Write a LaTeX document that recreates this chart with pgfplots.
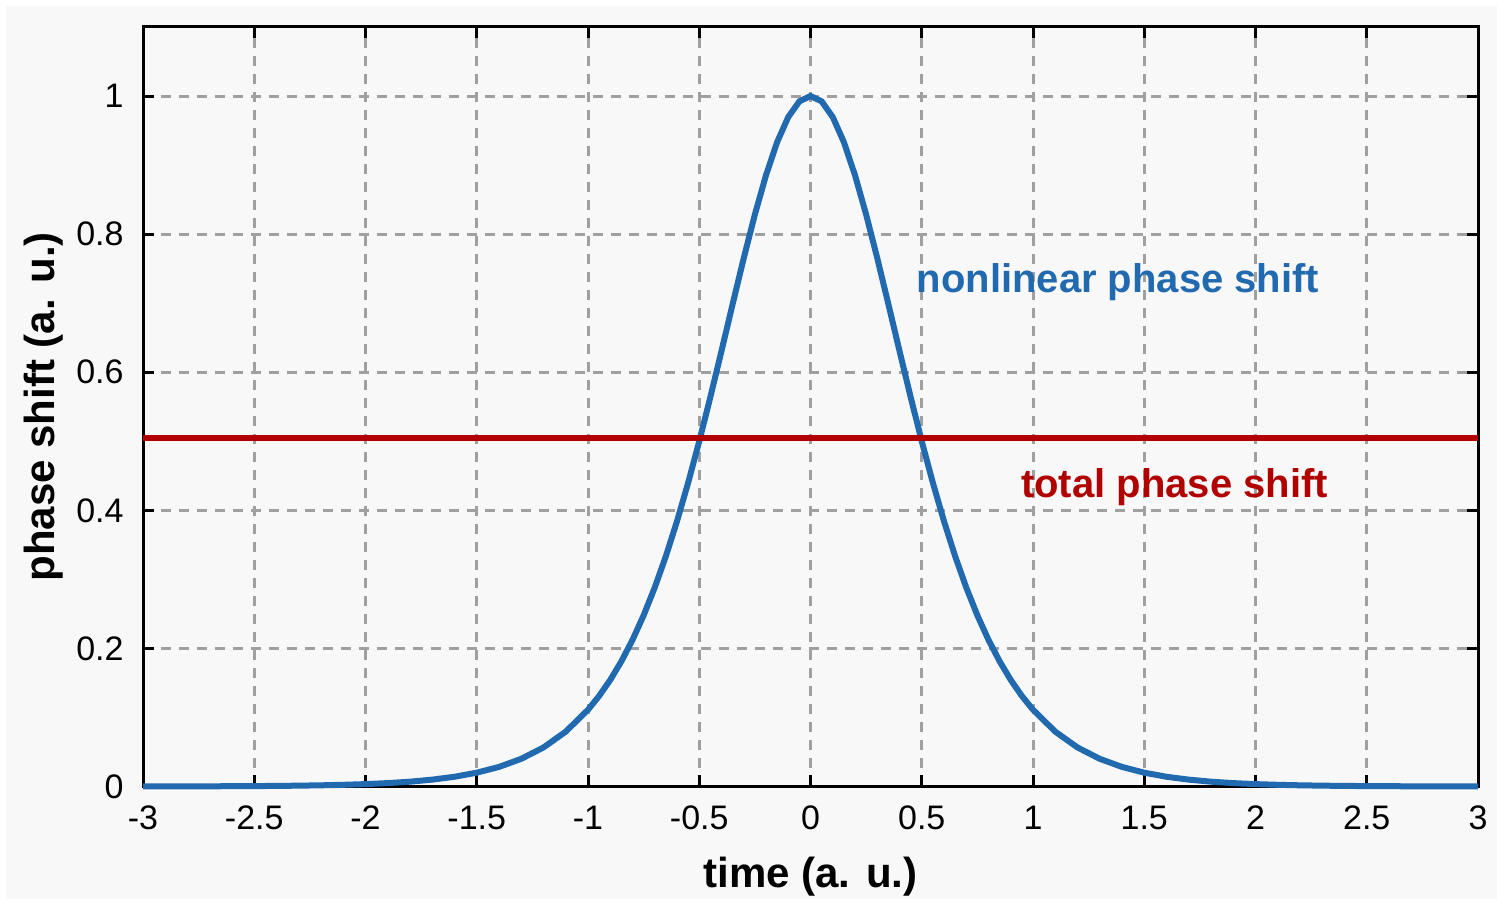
\documentclass[border=0pt]{standalone}
\usepackage{fontspec}
\setmainfont{Liberation Sans}
\usepackage{pgfplots}
\pgfplotsset{compat=1.18}
\definecolor{bg}{HTML}{F8F8F8}
\definecolor{curveblue}{HTML}{226AB0}
\definecolor{linered}{HTML}{B00000}
\definecolor{gridgray}{HTML}{A0A0A0}
\begin{document}
\begin{tikzpicture}
\fill[white] (0,0) rectangle (748.5pt,449.5pt);
\fill[bg] (3pt,0) rectangle (748.5pt,446.5pt);
\begin{axis}[
  at={(71.5pt,56.25pt)}, anchor=south west,
  scale only axis, width=667.5pt, height=379.75pt,
  xmin=-3, xmax=3, ymin=0, ymax=1.1,
  clip=false,
  xtick={-3,-2.5,-2,-1.5,-1,-0.5,0,0.5,1,1.5,2,2.5,3},
  xticklabels={-3,-2.5,-2,-1.5,-1,-0.5,0,0.5,1,1.5,2,2.5,3},
  ytick={0,0.2,0.4,0.6,0.8,1},
  yticklabels={0,0.2,0.4,0.6,0.8,1},
  axis line style={black, line width=1.5pt},
  every tick/.style={black, line width=1.5pt},
  major tick length=5.5pt,
  tick align=inside,
  grid=major,
  major grid style={gridgray, line width=1.5pt, dash pattern=on 5pt off 4pt},
  tick label style={font=\fontsize{17}{20}\selectfont, inner sep=0pt},
  xticklabel style={anchor=north, yshift=-9.5pt},
  yticklabel style={anchor=east, xshift=-9.5pt},
  xlabel={time (a. u.)},
  ylabel={phase shift (a. u.)},
  label style={font=\bfseries\fontsize{21}{24}\selectfont},
  xlabel style={at={(axis description cs:0.5,-0.119)}, anchor=center},
  ylabel style={at={(axis description cs:-0.0742,0.5)}, anchor=center},
]
\addplot[curveblue, line width=3pt] table[row sep=\\] {
x y\\
-3.0 0.00010\\ -2.9 0.00014\\ -2.8 0.00021\\ -2.7 0.00029\\ -2.6 0.00042\\
-2.5 0.00059\\ -2.4 0.00084\\ -2.3 0.00120\\ -2.2 0.00171\\ -2.1 0.00243\\
-2.0 0.00345\\ -1.9 0.00491\\ -1.8 0.00698\\ -1.7 0.00993\\ -1.6 0.01410\\
-1.5 0.02000\\ -1.4 0.02834\\ -1.3 0.04007\\ -1.2 0.05653\\ -1.1 0.07945\\
-1.0 0.11113\\ -0.95 0.13109\\ -0.9 0.15433\\ -0.85 0.18126\\ -0.8 0.21230\\
-0.75 0.24781\\ -0.7 0.28817\\ -0.65 0.33358\\ -0.6 0.38417\\ -0.55 0.43978\\
-0.5 0.50000\\ -0.45 0.56410\\ -0.4 0.63084\\ -0.35 0.69860\\ -0.3 0.76529\\
-0.25 0.82843\\ -0.2 0.88533\\ -0.15 0.93322\\ -0.1 0.96956\\ -0.05 0.99227\\
0.0 1.00000\\
0.05 0.99227\\ 0.1 0.96956\\ 0.15 0.93322\\ 0.2 0.88533\\ 0.25 0.82843\\
0.3 0.76529\\ 0.35 0.69860\\ 0.4 0.63084\\ 0.45 0.56410\\ 0.5 0.50000\\
0.55 0.43978\\ 0.6 0.38417\\ 0.65 0.33358\\ 0.7 0.28817\\ 0.75 0.24781\\
0.8 0.21230\\ 0.85 0.18126\\ 0.9 0.15433\\ 0.95 0.13109\\ 1.0 0.11113\\
1.1 0.07945\\ 1.2 0.05653\\ 1.3 0.04007\\ 1.4 0.02834\\ 1.5 0.02000\\
1.6 0.01410\\ 1.7 0.00993\\ 1.8 0.00698\\ 1.9 0.00491\\ 2.0 0.00345\\
2.1 0.00243\\ 2.2 0.00171\\ 2.3 0.00120\\ 2.4 0.00084\\ 2.5 0.00059\\
2.6 0.00042\\ 2.7 0.00029\\ 2.8 0.00021\\ 2.9 0.00014\\ 3.0 0.00010\\
};
\addplot[linered, line width=3pt] coordinates {(-3,0.505) (3,0.505)};
\node[anchor=base, text=curveblue, font=\bfseries\fontsize{20}{24}\selectfont] at (axis cs:1.382,0.7148) {nonlinear phase shift};
\node[anchor=base, text=linered, font=\bfseries\fontsize{20}{24}\selectfont] at (axis cs:1.636,0.4187) {total phase shift};
\end{axis}
\end{tikzpicture}
\end{document}
